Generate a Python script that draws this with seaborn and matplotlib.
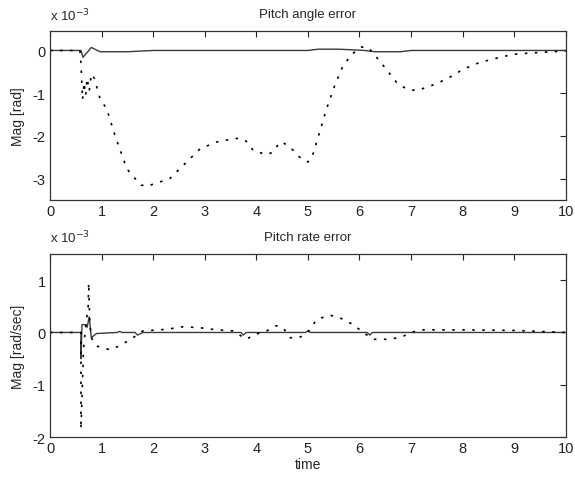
import numpy as np
import pandas as pd
import matplotlib
matplotlib.use("Agg")
import matplotlib.pyplot as plt
import seaborn as sns

# ---- data (values in units of 1e-3) ----
angle_dot_t = [0, 0.58, 0.6, 0.63, 0.66, 0.69, 0.72, 0.76, 0.8, 0.86, 0.97, 1.1, 1.26, 1.49, 1.68,
               1.77, 1.9, 1.97, 2.32, 2.65, 2.91, 3.23, 3.5, 3.68, 3.8, 3.94, 4.2, 4.32, 4.46, 4.55,
               4.72, 4.86, 5.0, 5.08, 5.17, 5.36, 5.52, 5.68, 5.85, 6.04, 6.17, 6.33, 6.52, 6.72,
               6.91, 7.1, 7.36, 7.69, 8.01, 8.33, 8.66, 8.98, 9.3, 9.6, 10]
angle_dot_v = [0, 0, -0.3, -1.15, -0.75, -1.05, -0.65, -0.95, -0.55, -0.65, -1.13, -1.37, -1.99, -2.77, -3.04,
               -3.15, -3.18, -3.14, -3.0, -2.61, -2.3, -2.14, -2.08, -2.05, -2.12, -2.34, -2.44, -2.38, -2.14, -2.18,
               -2.34, -2.52, -2.61, -2.5, -2.14, -1.37, -0.82, -0.36, -0.09, 0.08, 0.07, -0.16, -0.44, -0.75,
               -0.9, -0.94, -0.84, -0.67, -0.44, -0.28, -0.18, -0.09, -0.06, -0.04, -0.01]

angle_sol_t = [0, 0.6, 0.64, 0.8, 0.97, 1.5, 2.0, 4.3, 5.0, 5.2, 5.6, 6.1, 6.3, 6.8, 7.0, 10]
angle_sol_v = [0, 0, -0.16, 0.07, -0.03, -0.03, 0.0, 0.0, 0.0, 0.03, 0.03, 0.0, -0.03, -0.03, 0.0, 0]

rate_dot_t = [0, 0.59, 0.6, 0.6, 0.65, 0.7, 0.74, 0.75, 0.77, 0.8, 0.9, 1.16, 1.36, 1.61, 1.8, 2.26, 2.58,
              2.91, 3.23, 3.55, 3.71, 3.8, 4.0, 4.2, 4.39, 4.52, 4.65, 4.8, 4.9, 5.02, 5.17, 5.43, 5.62,
              5.88, 6.07, 6.27, 6.52, 6.78, 7.04, 7.17, 8.0, 9.0, 9.5, 10]
rate_dot_v = [0, 0, 0, -1.85, -0.3, 0.2, 0.5, 0.95, 0.2, -0.1, -0.26, -0.33, -0.25, -0.1, 0.03, 0.06, 0.11,
              0.09, 0.05, 0.03, -0.07, -0.13, -0.03, 0.03, 0.13, 0.09, -0.1, -0.1, -0.07, 0.03, 0.25, 0.33, 0.28,
              0.15, 0.0, -0.13, -0.13, -0.1, 0.01, 0.05, 0.05, 0.04, 0.02, 0.0]

rate_sol_t = [0, 0.6, 0.6, 0.62, 0.7, 0.72, 0.76, 0.8, 0.9, 1.3, 1.35, 1.4, 1.65, 1.7, 1.8, 3.7, 3.75, 3.8,
              4.95, 5.0, 5.05, 6.15, 6.2, 6.25, 10]
rate_sol_v = [0, 0, -0.5, 0.15, 0.15, 0.1, 0.3, -0.1, -0.02, 0, 0.02, 0, 0, -0.05, 0, 0, -0.05, 0,
              0, 0.03, 0, 0, -0.05, 0, 0]

x_ticks = list(range(0, 11))
angle_yticks = [0, -1, -2, -3]
rate_yticks = [-2, -1, 0, 1]

sns.set_style("white")
plt.rcParams["font.family"] = ["Liberation Sans", "DejaVu Sans"]

fig = plt.figure(figsize=(5.75, 4.81), dpi=100)
ax1 = fig.add_axes([0.087, 0.582, 0.897, 0.351])
ax2 = fig.add_axes([0.087, 0.089, 0.897, 0.381])

def draw(ax, dt, dv, st, sv):
    dfs = pd.DataFrame({"t": st, "v": sv})
    dfd = pd.DataFrame({"t": dt, "v": dv})
    sns.lineplot(data=dfs, x="t", y="v", ax=ax, sort=False, estimator=None,
                 color="#3a3a3a", linewidth=1.0)
    sns.lineplot(data=dfd, x="t", y="v", ax=ax, sort=False, estimator=None,
                 color="black", linewidth=1.2, linestyle=(0, (1.5, 4.5)))

draw(ax1, angle_dot_t, angle_dot_v, angle_sol_t, angle_sol_v)
draw(ax2, rate_dot_t, rate_dot_v, rate_sol_t, rate_sol_v)

for ax, yt, yl, lab, title in [(ax1, angle_yticks, (-3.5, 0.45), "Mag [rad]", "Pitch angle error"),
                               (ax2, rate_yticks, (-2, 1.5), "Mag [rad/sec]", "Pitch rate error")]:
    ax.set_xlim(0, 10)
    ax.set_ylim(*yl)
    ax.set_xticks(x_ticks)
    ax.set_yticks(yt)
    ax.set_yticklabels([str(v) for v in yt])
    ax.tick_params(direction="in", length=4, width=0.8, top=True, right=True,
                   labelsize=10.5, colors="#222222", pad=3)
    for s in ax.spines.values():
        s.set_color("#333333")
        s.set_linewidth(0.9)
    ax.set_ylabel(lab, fontsize=10, labelpad=6)
    ax.set_xlabel("")
    ax.set_title(title, fontsize=9.5, pad=10)
    ax.text(0.0, 1.045, r"x 10$^{-3}$", transform=ax.transAxes, fontsize=9.5,
            ha="left", va="bottom")

ax2.set_xlabel("time", fontsize=10, labelpad=1)

fig.savefig("out.png", dpi=100, facecolor="white")
